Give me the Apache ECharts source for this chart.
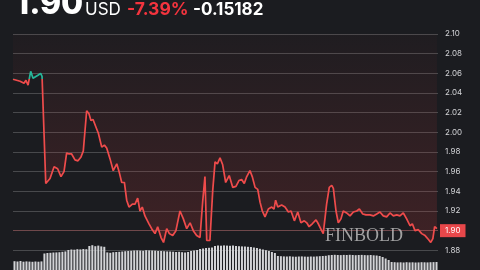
<!DOCTYPE html>
<html>
<head>
<meta charset="utf-8">
<script src="https://cdn.jsdelivr.net/npm/echarts@6/dist/echarts.min.js"></script>
<style>
html,body{margin:0;padding:0;background:#1b1c20;}
#c{width:480px;height:270px;}
</style>
</head>
<body>
<div id="c"></div>
<script>
// Time of day (hours) and price (USD)
var hours = [0.00,0.40,0.62,0.73,0.85,1.00,1.13,1.41,1.56,1.64,1.85,2.09,2.32,2.52,2.71,2.88,3.03,3.16,3.31,3.50,3.67,3.84,3.97,4.07,4.16,4.29,4.40,4.52,4.67,4.82,5.01,5.16,5.29,5.48,5.66,5.86,5.99,6.14,6.29,6.42,6.55,6.74,6.89,7.04,7.17,7.30,7.45,7.68,7.83,8.02,8.17,8.36,8.50,8.58,8.68,8.83,9.02,9.20,9.43,9.62,9.81,10.00,10.18,10.37,10.56,10.71,10.84,10.94,11.12,11.28,11.41,11.54,11.69,11.84,12.01,12.21,12.41,12.59,12.76,12.91,13.06,13.20,13.38,13.51,13.67,13.82,13.95,14.08,14.23,14.42,14.61,14.74,14.83,14.95,15.17,15.36,15.55,15.70,15.89,16.08,16.26,16.45,16.59,16.72,16.90,17.11,17.24,17.43,17.52,17.71,17.86,18.00,18.09,18.24,18.37,18.52,18.65,18.84,19.03,19.22,19.41,19.56,19.75,19.93,20.16,20.35,20.54,20.72,20.91,21.10,21.29,21.48,21.67,21.85,22.04,22.23,22.42,22.55,22.70,22.89,23.08,23.27,23.46,23.59,23.71,23.81,23.94];
var prices = [2.054,2.052,2.050,2.053,2.048,2.062,2.055,2.058,2.060,2.057,1.948,1.953,1.965,1.963,1.955,1.960,1.979,1.978,1.978,1.972,1.971,1.975,1.981,1.982,2.022,2.019,2.012,2.013,2.006,1.999,1.985,1.987,1.984,1.973,1.961,1.968,1.960,1.949,1.949,1.931,1.924,1.927,1.927,1.933,1.920,1.924,1.915,1.907,1.902,1.897,1.904,1.893,1.888,1.890,1.902,1.897,1.895,1.900,1.920,1.912,1.902,1.908,1.900,1.895,1.893,1.929,1.955,1.890,1.890,1.941,1.970,1.968,1.974,1.967,1.949,1.956,1.944,1.945,1.951,1.952,1.948,1.955,1.961,1.955,1.944,1.942,1.929,1.920,1.914,1.922,1.924,1.922,1.931,1.924,1.926,1.924,1.919,1.920,1.910,1.919,1.908,1.910,1.908,1.904,1.907,1.911,1.907,1.900,1.897,1.927,1.944,1.946,1.943,1.920,1.908,1.912,1.920,1.918,1.915,1.919,1.920,1.922,1.917,1.916,1.916,1.915,1.917,1.919,1.915,1.914,1.918,1.915,1.916,1.915,1.918,1.912,1.905,1.907,1.900,1.901,1.897,1.895,1.891,1.888,1.892,1.904,1.902];
var volumes = [88,85,90,83,86,84,82,85,83,86,
  165,170,172,175,176,178,182,186,
  200,205,203,208,206,210,208,
  240,248,238,244,236,232,
  176,172,178,180,182,
  185,188,190,192,195,196,194,192,198,196,195,193,190,
  190,188,186,185,183,180,182,178,175,
  180,190,195,200,
  210,215,220,222,225,
  240,245,243,246,244,242,245,240,238,236,235,232,230,
  225,220,212,205,198,190,180,170,
  140,138,136,135,137,134,133,135,136,134,133,135,134,136,138,140,142,
  148,150,152,150,149,151,150,152,150,148,150,151,149,148,150,147,145,
  140,130,115,100,
  80,78,76,77,75,78,76,77,75,76,78,77,76,78,79,80];
var yTicks = {min:1.86, max:2.10, interval:0.02};
var prevClose = 2.0544;
var headerPrice = '1.90', headerCcy = 'USD', headerPct = '-7.39%', headerChg = '-0.15182';
var lastLabel = '1.90';

var linePts = hours.map(function(h,i){return [h, prices[i]];});
var volCats = volumes.map(function(v,i){return i;});

var chart = echarts.init(document.getElementById('c'), null, {renderer:'canvas'});
chart.setOption({
  backgroundColor:'#1b1c20',
  animation:false,
  grid:[
    {left:13, right:42, top:34, bottom:0},
    {left:13, right:42, top:240, bottom:0}
  ],
  xAxis:[
    {type:'value', gridIndex:0, min:0, max:24, show:false},
    {type:'category', gridIndex:1, data:volCats, show:false}
  ],
  yAxis:[
    {type:'value', gridIndex:0, position:'right', min:yTicks.min, max:yTicks.max, interval:yTicks.interval,
     axisLine:{show:false}, axisTick:{show:false},
     axisLabel:{color:'#d4d5d8', fontSize:8, fontFamily:'Inter', margin:7, showMinLabel:false,
       formatter:function(v){return v.toFixed(2);}},
     splitLine:{show:true, showMinLine:false, lineStyle:{color:'rgba(255,255,255,0.2)', width:1}}},
    {type:'value', gridIndex:1, min:0, max:300, show:false}
  ],
  visualMap:{show:false, type:'piecewise', seriesIndex:0, dimension:1,
    pieces:[{gt:prevClose, lte:3, color:'#26b79a'},{gte:0, lte:prevClose, color:'#ef4b4b'}]},
  series:[
    {type:'line', xAxisIndex:0, yAxisIndex:0, data:linePts, showSymbol:false, symbol:'none',
     lineStyle:{width:1.7}, z:3,
     areaStyle:{origin:'end', color:new echarts.graphic.LinearGradient(0,0,0,1,[
       {offset:0, color:'rgba(225,60,60,0.03)'},
       {offset:1, color:'rgba(225,60,60,0.26)'}])},
     markLine:{silent:true, symbol:'none',
       lineStyle:{color:'rgba(232,70,70,0.25)', type:'solid', width:1},
       label:{show:true, position:'end', distance:2, formatter:lastLabel, color:'#fff', fontSize:8,
         fontFamily:'Inter', backgroundColor:'#e8474a', padding:[3,5,2,5]},
       data:[{yAxis:prices[prices.length-1]}]}
    },
    {type:'bar', xAxisIndex:1, yAxisIndex:1, data:volumes, barWidth:2,
     itemStyle:{color:'#d2d3d6'}, z:4}
  ],
  graphic:[
    {type:'text', left:15, top:-12, style:{text:headerPrice, fill:'#ffffff', font:'800 32px Inter'}},
    {type:'text', left:85, top:1, style:{text:headerCcy, fill:'#ffffff', font:'400 17px Inter'}},
    {type:'text', left:127, top:1, style:{text:headerPct, fill:'#f4343e', font:'700 17.5px Inter'}},
    {type:'text', left:193, top:1, style:{text:headerChg, fill:'#ffffff', font:'700 17px Inter'}},
    {type:'text', left:325, top:227, z:10, style:{text:'FINBOLD', fill:'rgba(185,185,185,0.85)', font:'400 18px "Liberation Serif"'}}
  ]
});
</script>
</body>
</html>
